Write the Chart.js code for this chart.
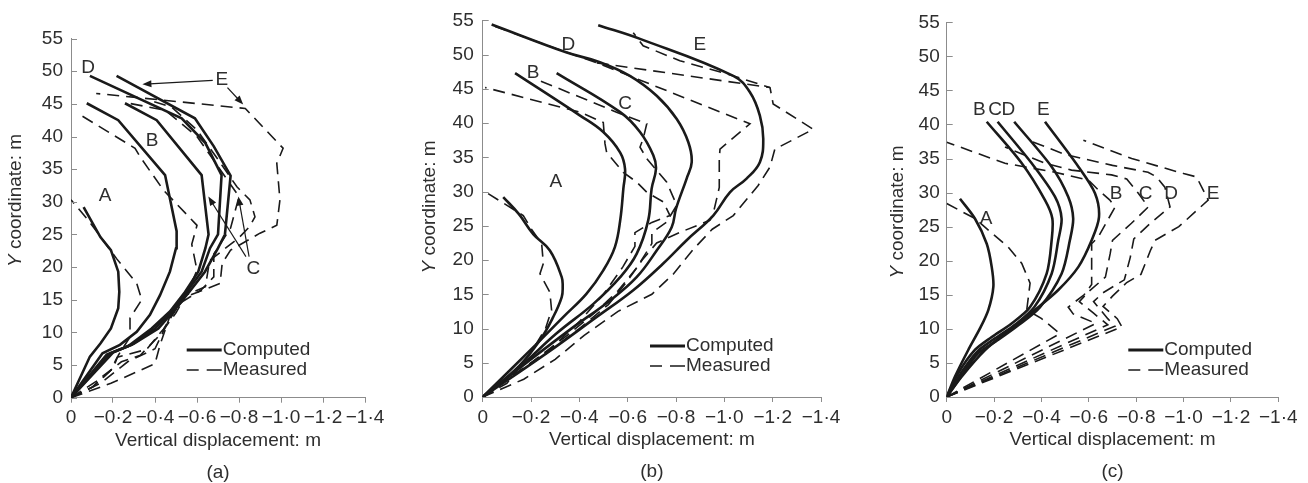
<!DOCTYPE html>
<html>
<head>
<meta charset="utf-8">
<script src="https://cdn.jsdelivr.net/npm/chart.js@4.4.1/dist/chart.umd.min.js"></script>
<style>
  body { margin: 0; background: #fff; width: 1308px; height: 483px; position: relative; overflow: hidden; }
  canvas { position: absolute; top: 0; }
</style>
</head>
<body>
<canvas id="chart-a" width="420" height="483" style="left:0px"></canvas>
<canvas id="chart-b" width="452" height="483" style="left:418px"></canvas>
<canvas id="chart-c" width="438" height="483" style="left:870px"></canvas>
<script>
// [vertical displacement (m), Y coordinate (m)]
const xTicks = [0, -0.2, -0.4, -0.6, -0.8, -1.0, -1.2, -1.4];
const yTicks = [0, 5, 10, 15, 20, 25, 30, 35, 40, 45, 50, 55];

// (a)
const aCompA = [[0,0],[-0.09,6.3],[-0.14,8.3],[-0.19,10.6],[-0.225,13.7],[-0.23,16.2],[-0.225,19.3],[-0.19,22.6],[-0.14,24.6],[-0.06,29.2]];
const aCompB = [[0,0],[-0.15,6.8],[-0.233,8.1],[-0.313,10.1],[-0.376,12.7],[-0.424,15.7],[-0.471,19.3],[-0.5,22.9],[-0.503,25.5],[-0.448,34.1],[-0.225,42.5],[-0.075,45.1]];
const aCompC = [[0,0],[-0.17,6.6],[-0.273,7.9],[-0.384,10.6],[-0.471,13.2],[-0.543,16.2],[-0.606,19.3],[-0.64,22.9],[-0.655,25],[-0.622,34.1],[-0.408,42.5],[-0.257,45.1]];
const aCompD = [[0,0],[-0.186,6.8],[-0.289,8.1],[-0.4,10.6],[-0.48,13.2],[-0.551,16.2],[-0.622,19.3],[-0.662,22.9],[-0.7,25],[-0.717,34.1],[-0.64,39],[-0.527,42.8],[-0.09,49.3]];
const aCompE = [[0,0],[-0.2,6.9],[-0.3,8.3],[-0.416,10.6],[-0.487,13.2],[-0.563,16.2],[-0.638,19.3],[-0.7,22.9],[-0.733,25],[-0.76,34],[-0.68,38.5],[-0.59,42.8],[-0.217,49.3]];
const aMeasA = [[0,0],[-0.106,1.7],[-0.2,4.5],[-0.225,6.5],[-0.281,9.3],[-0.281,12.2],[-0.337,15],[-0.313,17.5],[-0.217,21.3],[-0.082,27.2],[0,30.3]];
const aMeasB = [[0,0],[-0.12,2.5],[-0.24,5.5],[-0.33,6.5],[-0.42,9.5],[-0.5,13],[-0.56,16.5],[-0.6,19.5],[-0.575,23.5],[-0.6,26.4],[-0.44,31.8],[-0.329,36.9],[-0.305,38.2],[-0.03,43.6]];
const aMeasC = [[0,0],[-0.1,1.6],[-0.19,4.2],[-0.22,6.2],[-0.36,7.4],[-0.44,10.5],[-0.52,14.5],[-0.62,16.5],[-0.68,18.5],[-0.68,22],[-0.76,26],[-0.8,30.8],[-0.72,34.5],[-0.6,40],[-0.45,44],[-0.26,45.2]];
const aMeasD = [[0,0],[-0.14,2.2],[-0.27,5.5],[-0.4,7.5],[-0.46,11.5],[-0.53,15.5],[-0.64,17],[-0.66,21],[-0.8,24.5],[-0.85,26.2],[-0.876,27.7],[-0.852,30.3],[-0.79,32.3],[-0.7,36.5],[-0.6,41],[-0.48,44.5],[-0.38,45.5]];
const aMeasE = [[0,0],[-0.19,2.2],[-0.4,5.2],[-0.424,8.1],[-0.47,12.4],[-0.55,15.5],[-0.71,17.5],[-0.72,20.6],[-0.76,22.6],[-0.9,25.2],[-0.98,26.4],[-0.995,30.3],[-0.98,35.9],[-1.01,38.2],[-0.83,44.3],[-0.12,46.6]];
const aLabels = [['A',-0.162,31.0],['B',-0.386,39.4],['C',-0.868,19.8],['D',-0.081,50.6],['E',-0.718,48.7]];
const aArrows = [[[-0.675,48.6],[-0.34,48.0]],[[-0.745,47.5],[-0.82,44.9]],[[-0.833,21.6],[-0.654,30.8]],[[-0.848,21.6],[-0.797,30.8]]];

// (b)
const bCompA = [[0,0],[-0.15,4.5],[-0.237,8.3],[-0.292,11.7],[-0.327,14.6],[-0.331,16.1],[-0.327,17.5],[-0.278,21.4],[-0.209,23.8],[-0.15,26.7],[-0.085,29.2]];
const bCompB = [[0,0],[-0.196,6.8],[-0.334,11.7],[-0.43,15.1],[-0.499,18.5],[-0.547,21.9],[-0.569,25.8],[-0.582,30.4],[-0.589,33.3],[-0.569,35.7],[-0.499,38.7],[-0.403,41.1],[-0.134,47.3]];
const bCompC = [[0,0],[-0.154,4.4],[-0.306,9.3],[-0.458,13.6],[-0.569,17.5],[-0.637,20.9],[-0.685,25.8],[-0.699,30.4],[-0.717,33.3],[-0.706,35.3],[-0.651,38.7],[-0.569,41.6],[-0.306,47.3]];
const bCompD = [[0,0],[-0.196,5.4],[-0.375,10.2],[-0.527,14.1],[-0.637,17.5],[-0.72,21.4],[-0.782,24.8],[-0.8,27.5],[-0.844,31.9],[-0.865,34.3],[-0.851,37.2],[-0.803,40.6],[-0.72,44],[-0.609,46.9],[-0.485,48.9],[-0.348,50.3],[-0.037,54.4]];
const bCompE = [[0,0],[-0.265,6.4],[-0.472,11.7],[-0.623,15.6],[-0.747,19.5],[-0.844,22.9],[-0.954,26.5],[-1.023,29.9],[-1.092,31.9],[-1.147,34.3],[-1.161,37.7],[-1.147,41.1],[-1.106,44.5],[-1.037,46.9],[-0.651,52.3],[-0.478,54.3]];
const bMeasA = [[0,0],[-0.1,2],[-0.2,6.5],[-0.26,10],[-0.285,12.7],[-0.278,15.3],[-0.237,18],[-0.251,19.5],[-0.244,22.4],[-0.2,24.6],[-0.168,26.5],[0,30.2]];
const bMeasB = [[0,0],[-0.12,3],[-0.28,7],[-0.4,11],[-0.5,15],[-0.58,19],[-0.63,22],[-0.63,24],[-0.7,25.5],[-0.775,26.5],[-0.747,28.5],[-0.679,29.9],[-0.637,31.4],[-0.582,32.8],[-0.513,35.7],[-0.506,37],[-0.499,40.1],[-0.403,41.6],[-0.01,45.2]];
const bMeasC = [[0,0],[-0.2,5],[-0.35,9],[-0.47,12.5],[-0.56,15.5],[-0.64,19],[-0.7,22.4],[-0.7,24],[-0.76,25.5],[-0.803,28],[-0.761,31.4],[-0.679,34.8],[-0.651,36.5],[-0.664,37.7],[-0.679,39.9],[-0.554,41.6],[-0.236,46.2]];
const bMeasD = [[0,0],[-0.1,2.5],[-0.25,6],[-0.4,10],[-0.52,13.5],[-0.6,17],[-0.66,20],[-0.72,22.5],[-0.82,24.1],[-0.94,25.8],[-0.954,26.8],[-0.979,30.6],[-0.979,34.8],[-0.982,36.2],[-1.106,39.9],[-0.472,48.8],[-0.334,50.5],[-0.03,54.4]];
const bMeasDTop = [[-0.472,48.8],[-1.189,45.2]];
const bMeasE = [[0,0],[-0.17,2.6],[-0.3,5.5],[-0.42,9],[-0.56,12.5],[-0.7,15],[-0.79,18],[-0.87,21.5],[-0.95,24.5],[-1.037,26.5],[-1.14,30.9],[-1.189,33.6],[-1.209,36.2],[-1.368,39.1],[-1.202,42.8],[-1.189,45.2],[-1.009,47.2],[-0.816,49.1],[-0.664,51.3],[-0.623,53.2]];
const bLabels = [['A',-0.303,31.4],['B',-0.209,47.4],['C',-0.589,42.8],['D',-0.354,51.5],['E',-0.899,51.5]];

// (c)
const cCompA = [[0,0],[-0.035,3],[-0.091,6.9],[-0.141,10.1],[-0.176,12.8],[-0.197,16.2],[-0.19,19.1],[-0.169,22.5],[-0.119,26.2],[-0.056,29.1]];
const cCompB = [[0,0],[-0.049,3.5],[-0.119,6.9],[-0.19,8.8],[-0.274,10.8],[-0.352,13.2],[-0.422,18.1],[-0.443,23],[-0.446,26.2],[-0.415,28.9],[-0.317,34.3],[-0.169,40.4]];
const cCompC = [[0,0],[-0.06,3.5],[-0.127,6.6],[-0.204,8.6],[-0.288,10.6],[-0.37,13.2],[-0.443,18.1],[-0.471,23],[-0.485,26.2],[-0.457,29.4],[-0.359,34.3],[-0.215,40.4]];
const cCompD = [[0,0],[-0.07,3.5],[-0.133,6.4],[-0.218,8.4],[-0.305,10.6],[-0.394,13.2],[-0.485,18.1],[-0.52,23],[-0.534,26.2],[-0.513,29.4],[-0.443,33.8],[-0.285,40.4]];
const cCompE = [[0,0],[-0.063,3],[-0.162,6.9],[-0.274,10.1],[-0.373,12.8],[-0.471,15.7],[-0.556,19.1],[-0.612,23],[-0.643,26.4],[-0.626,29.9],[-0.556,33.8],[-0.415,40.4]];
const cMeasA = [[0,0],[-0.478,9.3],[-0.401,11.5],[-0.338,12.8],[-0.352,16.7],[-0.317,19.6],[-0.26,22],[-0.119,26.2],[0,28.4]];
const cMeasB = [[0,0],[-0.63,10.8],[-0.534,12.2],[-0.513,13.2],[-0.58,15],[-0.612,16.5],[-0.612,22.5],[-0.64,23.5],[-0.711,27.9],[-0.689,28.9],[-0.64,30.4],[-0.6,31.8],[-0.457,33],[-0.246,34.3],[0,37.4]];
const cMeasC = [[0,0],[-0.68,10.6],[-0.62,12.3],[-0.56,14],[-0.6,15.5],[-0.67,17.6],[-0.69,21],[-0.7,23],[-0.78,25.5],[-0.851,27.9],[-0.809,29.9],[-0.76,32],[-0.696,32.6],[-0.527,33.3],[-0.415,34.3],[-0.246,36.7]];
const cMeasD = [[0,0],[-0.71,10.4],[-0.68,11.5],[-0.62,14],[-0.66,15.3],[-0.75,17.2],[-0.775,20.5],[-0.79,23.2],[-0.86,25.5],[-0.943,27.9],[-0.921,30.8],[-0.886,32.3],[-0.85,33],[-0.7,34],[-0.5,35.6],[-0.345,37.7]];
const cMeasE = [[0,0],[-0.74,10.3],[-0.72,11.5],[-0.66,13.3],[-0.7,14.8],[-0.76,16.8],[-0.82,18],[-0.86,21.5],[-0.88,23],[-0.98,25],[-1.104,28.9],[-1.055,32.3],[-1.0,32.8],[-0.781,35],[-0.577,37.7]];
const cLabels = [['A',-0.166,26.2],['B',-0.138,42.2],['C',-0.204,42.2],['D',-0.26,42.2],['E',-0.408,42.2],
                 ['B',-0.715,29.9],['C',-0.84,29.9],['D',-0.947,29.9],['E',-1.125,29.9]];

const FONT = '"Liberation Sans", Arial, sans-serif';
const FONT_SIZE = 19;
const TEXT_COLOR = '#2e2e2e';
const AXIS_COLOR = '#8c8c8c';
const LINE_COLOR = '#1a1a1a';

function fmtX(v) {
  const r = Math.round(v * 10) / 10;
  if (r === 0) return '0';
  return '\u2212' + Math.abs(r).toFixed(1).replace('.', '\u00b7');
}

function toXY(pts) { return pts.map(p => ({ x: p[0], y: p[1] })); }

function computed(label, pts, tension) {
  return { label, data: toXY(pts), showLine: true, borderColor: LINE_COLOR, borderWidth: 2.6,
           tension, pointRadius: 0, fill: false };
}
function measured(label, pts) {
  return { label, data: toXY(pts), showLine: true, borderColor: LINE_COLOR, borderWidth: 1.6,
           borderDash: [12, 7], tension: 0, pointRadius: 0, fill: false };
}

function arrow(ctx, x1, y1, x2, y2) {
  const a = Math.atan2(y2 - y1, x2 - x1), L = 9, W = 3.5;
  ctx.beginPath();
  ctx.moveTo(x1, y1);
  ctx.lineTo(x2 - L * 0.8 * Math.cos(a), y2 - L * 0.8 * Math.sin(a));
  ctx.stroke();
  ctx.beginPath();
  ctx.moveTo(x2, y2);
  ctx.lineTo(x2 - L * Math.cos(a) + W * Math.sin(a), y2 - L * Math.sin(a) - W * Math.cos(a));
  ctx.lineTo(x2 - L * Math.cos(a) - W * Math.sin(a), y2 - L * Math.sin(a) + W * Math.cos(a));
  ctx.closePath();
  ctx.fill();
}

// ticks inside the y axis, titles, curve letters, arrows and the key
const decor = {
  id: 'decor',
  afterDraw(chart, args, o) {
    const { ctx, chartArea: ca, scales: { x: sx, y: sy } } = chart;
    const px = v => sx.getPixelForValue(v), py = v => sy.getPixelForValue(v);
    const nm = FONT_SIZE + 'px ' + FONT, it = 'italic ' + nm;
    ctx.save();

    ctx.strokeStyle = AXIS_COLOR;
    ctx.lineWidth = 1;
    sy.ticks.forEach(t => {
      const yy = Math.round(py(t.value)) + 0.5;
      ctx.beginPath(); ctx.moveTo(ca.left, yy); ctx.lineTo(ca.left + 6, yy); ctx.stroke();
    });

    ctx.fillStyle = TEXT_COLOR;
    ctx.font = nm;
    ctx.textAlign = 'center';
    ctx.textBaseline = 'middle';
    o.labels.forEach(([t, x, y]) => ctx.fillText(t, px(x), py(y)));

    const cx = (ca.left + ca.right) / 2;
    ctx.fillText('Vertical displacement: m', cx, ca.bottom + 43);
    ctx.fillText(o.caption, cx, ca.bottom + 75);

    // y title with an italic Y
    ctx.save();
    ctx.translate(ca.left - o.yTitleDx, o.yTitleY);
    ctx.rotate(-Math.PI / 2);
    ctx.font = it; const w1 = ctx.measureText('Y').width;
    ctx.font = nm; const w2 = ctx.measureText(' coordinate: m').width;
    ctx.textAlign = 'left';
    ctx.font = it; ctx.fillText('Y', -(w1 + w2) / 2, 0);
    ctx.font = nm; ctx.fillText(' coordinate: m', -(w1 + w2) / 2 + w1, 0);
    ctx.restore();

    ctx.strokeStyle = LINE_COLOR;
    ctx.fillStyle = LINE_COLOR;
    ctx.lineWidth = 1.2;
    (o.arrows || []).forEach(([a, b]) => arrow(ctx, px(a[0]), py(a[1]), px(b[0]), py(b[1])));

    // key
    const lx = ca.left + o.keyDx, ly = ca.bottom - o.keyDy;
    ctx.strokeStyle = LINE_COLOR;
    ctx.lineWidth = 3;
    ctx.beginPath(); ctx.moveTo(lx, ly); ctx.lineTo(lx + 35, ly); ctx.stroke();
    ctx.lineWidth = 1.6;
    ctx.beginPath();
    ctx.moveTo(lx, ly + 20); ctx.lineTo(lx + 12, ly + 20);
    ctx.moveTo(lx + 20, ly + 20); ctx.lineTo(lx + 35, ly + 20);
    ctx.stroke();
    ctx.fillStyle = TEXT_COLOR;
    ctx.font = nm;
    ctx.textAlign = 'left';
    ctx.fillText('Computed', lx + 36, ly);
    ctx.fillText('Measured', lx + 36, ly + 20);

    ctx.restore();
  }
};

function makeChart(id, datasets, p) {
  return new Chart(document.getElementById(id), {
    type: 'scatter',
    data: { datasets },
    options: {
      responsive: false,
      animation: false,
      devicePixelRatio: 1,
      layout: { padding: { left: 0, top: p.top, right: p.right, bottom: 0 } },
      plugins: { legend: { display: false }, tooltip: { enabled: false }, decor: p.decor },
      scales: {
        x: {
          type: 'linear', reverse: true, min: -1.4, max: 0,
          afterFit: s => { s.height = p.xHeight; },
          afterBuildTicks: s => { s.ticks = xTicks.map(v => ({ value: v })); },
          ticks: { callback: fmtX, color: TEXT_COLOR, font: { family: FONT, size: FONT_SIZE }, padding: 4,
                   maxRotation: 0, autoSkip: false },
          grid: { drawOnChartArea: false, drawTicks: true, tickLength: 5, color: AXIS_COLOR },
          border: { color: AXIS_COLOR, width: 1 }
        },
        y: {
          type: 'linear', min: 0, max: 55,
          afterFit: s => { s.width = p.yWidth; },
          afterBuildTicks: s => { s.ticks = yTicks.map(v => ({ value: v })); },
          ticks: { color: TEXT_COLOR, font: { family: FONT, size: FONT_SIZE }, padding: p.yPad },
          grid: { drawOnChartArea: false, drawTicks: false, color: AXIS_COLOR },
          border: { color: AXIS_COLOR, width: 1 }
        }
      }
    },
    plugins: [decor]
  });
}

makeChart('chart-a', [
  computed('A computed', aCompA, 0), computed('B computed', aCompB, 0), computed('C computed', aCompC, 0),
  computed('D computed', aCompD, 0), computed('E computed', aCompE, 0),
  measured('A measured', aMeasA), measured('B measured', aMeasB), measured('C measured', aMeasC),
  measured('D measured', aMeasD), measured('E measured', aMeasE)
], { top: 38.6, right: 55, xHeight: 85.3, yWidth: 71, yPad: 8,
     decor: { labels: aLabels, arrows: aArrows, caption: '(a)', yTitleDx: 55.5, yTitleY: 200.5, keyDx: 115.7, keyDy: 47.7 } });

makeChart('chart-b', [
  computed('A computed', bCompA, 0.4), computed('B computed', bCompB, 0.4), computed('C computed', bCompC, 0.4),
  computed('D computed', bCompD, 0.4), computed('E computed', bCompE, 0.4),
  measured('A measured', bMeasA), measured('B measured', bMeasB), measured('C measured', bMeasC),
  measured('D measured', bMeasD), measured('D measured top', bMeasDTop), measured('E measured', bMeasE)
], { top: 19.5, right: 49, xHeight: 86, yWidth: 64.7, yPad: 9,
     decor: { labels: bLabels, caption: '(b)', yTitleDx: 52.7, yTitleY: 207, keyDx: 167.3, keyDy: 51 } });

makeChart('chart-c', [
  computed('A computed', cCompA, 0.3), computed('B computed', cCompB, 0.3), computed('C computed', cCompC, 0.3),
  computed('D computed', cCompD, 0.3), computed('E computed', cCompE, 0.3),
  measured('A measured', cMeasA), measured('B measured', cMeasB), measured('C measured', cMeasC),
  measured('D measured', cMeasD), measured('E measured', cMeasE)
], { top: 22.3, right: 29.7, xHeight: 86, yWidth: 76.7, yPad: 7,
     decor: { labels: cLabels, caption: '(c)', yTitleDx: 48.7, yTitleY: 212, keyDx: 181.6, keyDy: 47 } });
</script>
</body>
</html>
